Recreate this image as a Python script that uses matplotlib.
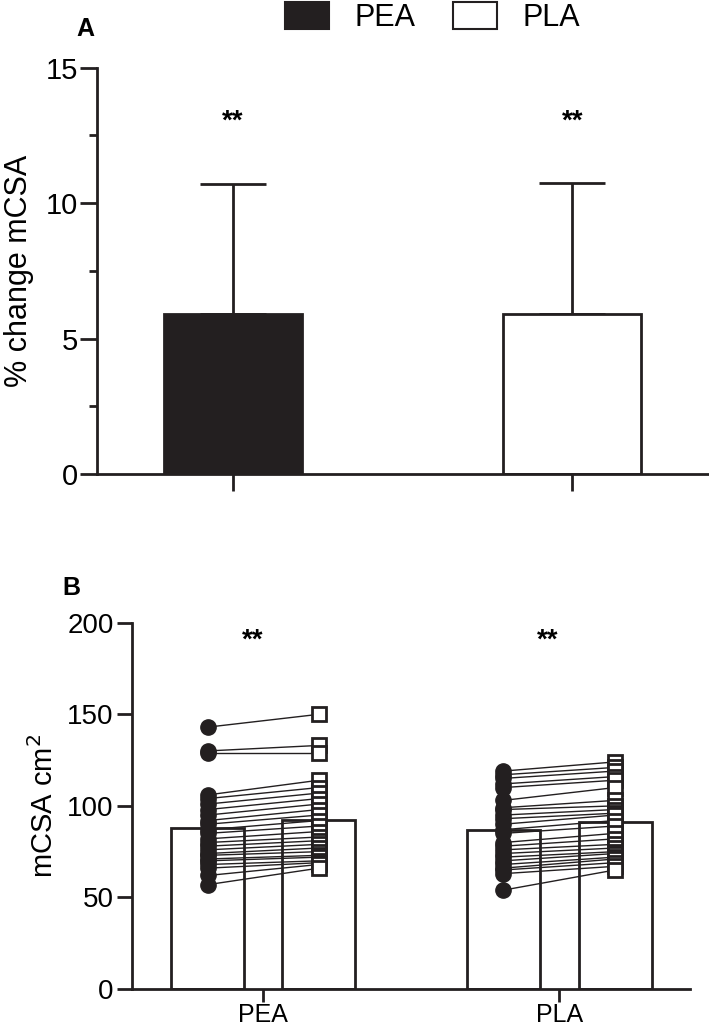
import numpy as np
import matplotlib
matplotlib.use("Agg")
import matplotlib.pyplot as plt
from matplotlib.patches import Patch
from matplotlib.ticker import MultipleLocator

plt.rcParams['font.family'] = ['Liberation Sans', 'DejaVu Sans']

############### DATA ###################

# panel A : % change in mCSA (mean + SD)
groups = ["PEA", "PLA"]
pct_mean = [5.9, 5.9]
pct_sd = [4.8, 4.85]

# panel B : individual mCSA (cm2) pre / post, and group means
pea_pre = [143, 130, 129, 106, 104, 101, 98, 95, 92, 90, 87, 85,
           82, 80, 78, 76, 74, 73, 71, 70, 68, 66, 62, 57]
pea_post = [150, 133, 129, 114, 110, 107, 104, 101, 98, 95, 92, 89,
            86, 83, 81, 79, 77, 75, 73, 72, 70, 69, 68, 66]
pla_pre = [119, 117, 115, 112, 110, 103, 99, 98, 95, 93, 90, 87,
           85, 80, 78, 76, 74, 72, 70, 68, 66, 65, 63, 54]
pla_post = [124, 121, 119, 116, 114, 110, 103, 100, 98, 96, 95, 92,
            89, 85, 82, 79, 77, 75, 74, 72, 71, 69, 67, 65]
pea_mean = [88.0, 92.3]
pla_mean = [86.8, 91.2]


############### FIGURE ###################

fig = plt.figure(figsize=(7.09, 10.31), dpi=100)

# ---- panel A
axA = fig.add_axes([0.137, 0.5403, 0.862, 0.394])
xA = np.arange(len(groups))
axA.bar(xA[0], pct_mean[0], 0.407, color="#231f20", edgecolor="#231f20", lw=2, zorder=2)
axA.bar(xA[1], pct_mean[1], 0.407, color="white", edgecolor="#231f20", lw=2, zorder=2)
axA.errorbar(xA, pct_mean, yerr=[np.zeros(2), pct_sd], fmt="none", ecolor="#231f20",
             elinewidth=2, capsize=24, capthick=2, zorder=1)
for i in xA:
    axA.text(i, 13.0, "**", ha="center", va="center", fontsize=20, fontweight="bold")
axA.set_xlim(-0.401, 1.401)
axA.set_ylim(0, 15)
axA.set_yticks([0, 5, 10, 15])
axA.yaxis.set_minor_locator(MultipleLocator(2.5))
axA.set_xticks(xA)
axA.set_xticklabels(["", ""])
axA.set_ylabel("% change mCSA", fontsize=22, labelpad=8)
axA.tick_params(axis="both", which="major", labelsize=21, length=12, width=2, color="#231f20", pad=2)
axA.tick_params(axis="y", which="minor", length=6, width=2, color="#231f20")
for s in ["top", "right"]:
    axA.spines[s].set_visible(False)
for s in ["left", "bottom"]:
    axA.spines[s].set_linewidth(2)
    axA.spines[s].set_color("#231f20")

fig.text(0.12, 0.972, "A", fontsize=18, fontweight="bold", ha="center", va="center")

handles = [Patch(facecolor="#231f20", edgecolor="#231f20", lw=1.5, label="PEA"),
           Patch(facecolor="white", edgecolor="#231f20", lw=1.5, label="PLA")]
fig.legend(handles=handles, loc="center", bbox_to_anchor=(0.61, 0.983), ncol=2, frameon=False,
           fontsize=22, handlelength=1.45, handleheight=1.0, columnspacing=1.2, handletextpad=0.85)

# ---- panel B
axB = fig.add_axes([0.186, 0.0407, 0.787, 0.3553])
pos = [0, 1, 2.662, 3.668]
bw = 0.658
means = pea_mean + pla_mean
axB.bar(pos, means, bw, color="white", edgecolor="#231f20", lw=2, zorder=1)

for pre, post, x0, x1 in [(pea_pre, pea_post, pos[0], pos[1]), (pla_pre, pla_post, pos[2], pos[3])]:
    for a, b in zip(pre, post):
        axB.plot([x0, x1], [a, b], color="#231f20", lw=1, zorder=3)
    axB.plot([x0] * len(pre), pre, "o", ms=11, color="#231f20", zorder=4)
    axB.plot([x1] * len(post), post, "s", ms=10.5, mfc="white", mec="#231f20", mew=2, zorder=4)

ctr = [(pos[0] + pos[1]) / 2, (pos[2] + pos[3]) / 2]
for c in ctr:
    axB.text(c - 0.1, 190, "**", ha="center", va="center", fontsize=20, fontweight="bold")

axB.set_xlim(-0.685, 4.342)
axB.set_ylim(0, 200)
axB.set_yticks([0, 50, 100, 150, 200])
axB.set_xticks(ctr)
axB.set_xticklabels(groups)
axB.set_ylabel("mCSA cm$^2$", fontsize=21, labelpad=6)
axB.tick_params(axis="y", which="major", labelsize=20, length=11, width=2, color="#231f20", pad=2)
axB.tick_params(axis="x", which="major", labelsize=18, length=9, width=2, color="#231f20", pad=1)
for s in ["top", "right"]:
    axB.spines[s].set_visible(False)
for s in ["left", "bottom"]:
    axB.spines[s].set_linewidth(2)
    axB.spines[s].set_color("#231f20")

fig.text(0.1, 0.43, "B", fontsize=18, fontweight="bold", ha="center", va="center")

fig.savefig("out.png", dpi=100)
